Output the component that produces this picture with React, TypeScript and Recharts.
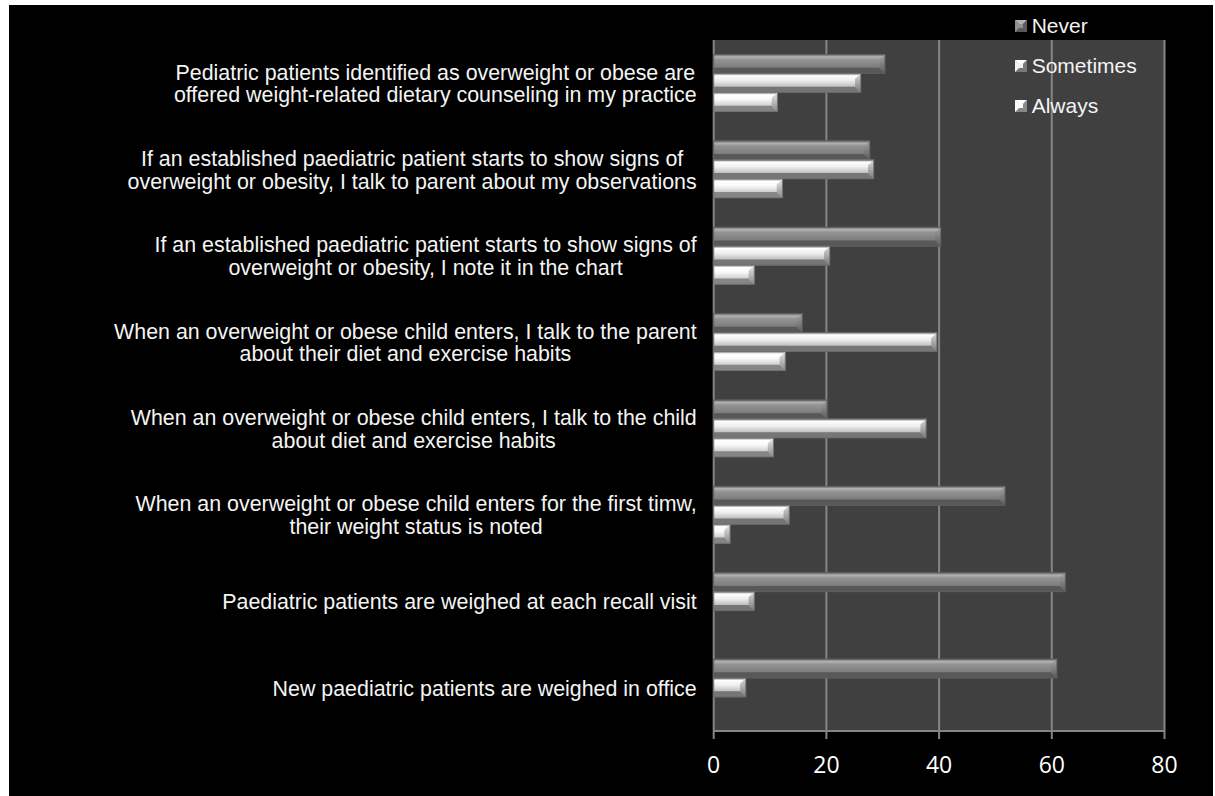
import React from 'react';
import { BarChart, Bar, XAxis, YAxis, CartesianGrid } from 'recharts';

// categories listed top to bottom, "\n" marks the label line break
const categories = [
  'Pediatric patients identified as overweight or obese are\noffered weight-related dietary counseling in my practice',
  'If an established paediatric patient starts to show signs of\noverweight or obesity, I talk to parent about my observations',
  'If an established paediatric patient starts to show signs of\noverweight or obesity, I note it in the chart',
  'When an overweight or obese child enters, I talk to the parent\nabout their diet and exercise habits',
  'When an overweight or obese child enters, I talk to the child\nabout diet and exercise habits',
  'When an overweight or obese child enters for the first timw,\ntheir weight status is noted',
  'Paediatric patients are weighed at each recall visit',
  'New paediatric patients are weighed in office',
];

const never = [30.4, 27.7, 40.3, 15.7, 20.1, 51.7, 62.4, 60.9];
const sometimes = [26.1, 28.4, 20.6, 39.6, 37.7, 13.4, 7.2, 5.7];
const always = [11.3, 12.2, 7.2, 12.7, 10.6, 2.9, 0, 0];

const seriesNames = ['Never', 'Sometimes', 'Always'];
const xTicks = [0, 20, 40, 60, 80];
const bandEdges = [0, 1, 2, 3, 4, 5, 6, 7, 8];

const data = categories.map((label, i) => ({
  label,
  Never: never[i],
  Sometimes: sometimes[i],
  Always: always[i],
}));

const LABEL_FONT_SIZE = 21.4;
const LABEL_FONT = `${LABEL_FONT_SIZE}px "Liberation Sans", Arial, sans-serif`;
const LINE_HEIGHT = 22.7;
const AXIS_GRAY = '#858585';

type Palette = { top: string; faceA: string; faceB: string; bottom: string; endA: string; endB: string; edge: string };

const palettes: Record<string, Palette> = {
  Never: { top: '#b2b2b2', faceA: '#909090', faceB: '#6a6a6a', bottom: '#585858', endA: '#a4a4a4', endB: '#5c5c5c', edge: '#5e5e5e' },
  Sometimes: { top: '#ffffff', faceA: '#f2f2f2', faceB: '#929292', bottom: '#767676', endA: '#d8d8d8', endB: '#7a7a7a', edge: '#6a6a6a' },
  Always: { top: '#ffffff', faceA: '#fbfbfb', faceB: '#a8a8a8', bottom: '#868686', endA: '#e8e8e8', endB: '#8a8a8a', edge: '#727272' },
};

let ctx: CanvasRenderingContext2D | null = null;
const textWidth = (t: string) => {
  if (!ctx) ctx = document.createElement('canvas').getContext('2d');
  if (!ctx) return t.length * LABEL_FONT_SIZE * 0.45;
  ctx.font = LABEL_FONT;
  return ctx.measureText(t).width;
};

// multi-line label, lines centred on each other, block right-aligned to the axis
const CategoryTick = (props: any) => {
  const { x, y, payload } = props;
  const lines = String(payload.value).split('\n');
  const w = Math.max(...lines.map(textWidth));
  const cx = x - w / 2;
  const y0 = y - ((lines.length - 1) * LINE_HEIGHT) / 2;
  return (
    <text textAnchor="middle" fill="#f4f4f4" fontSize={LABEL_FONT_SIZE} fontFamily='"Liberation Sans", Arial, sans-serif'>
      {lines.map((line, i) => (
        <tspan key={i} x={cx} y={y0 + i * LINE_HEIGHT} dy="0.36em">
          {line}
        </tspan>
      ))}
    </text>
  );
};

// bevelled bar: top/bottom/right facets around a shaded face
const bevelBar = (key: string) => (props: any) => {
  const { x, y, width, height } = props;
  if (!width || width <= 0) return <g />;
  const p = palettes[key];
  const b = Math.min(height * 0.3, width / 2);
  const r = x + width;
  const btm = y + height;
  return (
    <g>
      <rect x={x} y={y} width={width} height={height} fill={`url(#face-${key})`} />
      <polygon points={`${x},${y} ${r},${y} ${r - b},${y + b} ${x},${y + b}`} fill={`url(#top-${key})`} />
      <polygon points={`${x},${btm} ${r},${btm} ${r - b},${btm - b} ${x},${btm - b}`} fill={p.bottom} />
      <polygon points={`${r},${y} ${r},${btm} ${r - b},${btm - b} ${r - b},${y + b}`} fill={`url(#end-${key})`} />
      <rect x={x} y={y} width={width} height={height} fill="none" stroke={p.edge} strokeWidth={1} />
    </g>
  );
};

const LegendSwatch = ({ name }: { name: string }) => {
  const p = palettes[name];
  return (
    <svg width={12} height={12} style={{ display: 'block' }}>
      <rect x={0} y={0} width={12} height={12} fill={p.faceB} />
      <polygon points="0,0 12,0 8,4 4,4" fill={p.top} />
      <polygon points="0,12 12,12 8,8 4,8" fill={p.bottom} />
      <polygon points="0,0 4,4 4,8 0,12" fill={p.faceA} />
      <polygon points="12,0 8,4 8,8 12,12" fill={p.endB} />
      <rect x={4} y={4} width={4} height={4} fill={p.faceA} />
    </svg>
  );
};

const App = () => {
  return (
    <div style={{ position: 'absolute', left: 9, top: 5, width: 1204, height: 791, background: '#000' }}>
      <BarChart
        layout="vertical"
        width={1204}
        height={791}
        data={data}
        margin={{ top: 35, right: 48.5, left: 0, bottom: 25 }}
        barCategoryGap="16.67%"
        barGap={0}
      >
        <defs>
          {seriesNames.map((k) => (
            <React.Fragment key={k}>
              <linearGradient id={`face-${k}`} x1="0" y1="0" x2="0" y2="1">
                <stop offset="0%" stopColor={palettes[k].faceA} />
                <stop offset="35%" stopColor={palettes[k].faceA} />
                <stop offset="100%" stopColor={palettes[k].faceB} />
              </linearGradient>
              <linearGradient id={`top-${k}`} x1="0" y1="0" x2="0" y2="1">
                <stop offset="0%" stopColor={palettes[k].edge} />
                <stop offset="40%" stopColor={palettes[k].top} />
                <stop offset="100%" stopColor={palettes[k].faceA} />
              </linearGradient>
              <linearGradient id={`end-${k}`} x1="0" y1="0" x2="0" y2="1">
                <stop offset="0%" stopColor={palettes[k].endA} />
                <stop offset="100%" stopColor={palettes[k].endB} />
              </linearGradient>
            </React.Fragment>
          ))}
        </defs>
        <CartesianGrid yAxisId="cat" horizontal={false} stroke={AXIS_GRAY} strokeWidth={2} fill="#404040" />
        <XAxis
          type="number"
          domain={[0, 80]}
          ticks={xTicks}
          height={40}
          tickSize={8}
          tickMargin={17.5}
          axisLine={{ stroke: AXIS_GRAY, strokeWidth: 2 }}
          tickLine={{ stroke: AXIS_GRAY, strokeWidth: 2 }}
          tick={{ fill: '#ffffff', fontSize: 23, fontFamily: '"Open Sans", sans-serif' }}
        />
        <YAxis
          yAxisId="edges"
          type="number"
          domain={[0, 8]}
          ticks={bandEdges}
          width={0}
          tickSize={6}
          tick={false}
          axisLine={{ stroke: AXIS_GRAY, strokeWidth: 2 }}
          tickLine={{ stroke: AXIS_GRAY, strokeWidth: 2 }}
        />
        <YAxis
          yAxisId="cat"
          type="category"
          dataKey="label"
          width={704.7}
          axisLine={false}
          tickLine={false}
          tickSize={0}
          tickMargin={17}
          interval={0}
          tick={<CategoryTick />}
        />
        {seriesNames.map((k) => (
          <Bar key={k} yAxisId="cat" dataKey={k} name={k} fill={palettes[k].faceB} shape={bevelBar(k)} isAnimationActive={false} />
        ))}
      </BarChart>
      <div style={{ position: 'absolute', left: 1006, top: 1, fontFamily: '"Liberation Sans", Arial, sans-serif', fontSize: 21, color: '#f4f4f4' }}>
        {seriesNames.map((k) => (
          <div key={k} style={{ height: 40, lineHeight: '40px', display: 'flex', alignItems: 'center' }}>
            <LegendSwatch name={k} />
            <span style={{ marginLeft: 4.7 }}>{k}</span>
          </div>
        ))}
      </div>
    </div>
  );
};

export default App;
